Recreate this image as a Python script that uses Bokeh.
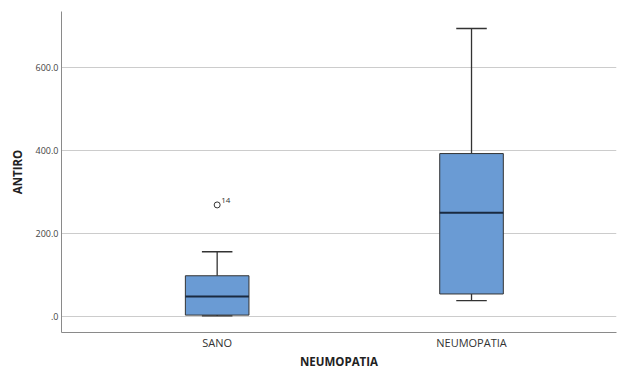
from bokeh.plotting import figure
from bokeh.models import FixedTicker, Range1d, ColumnDataSource
from bokeh.embed import file_html
from bokeh.resources import INLINE
from bokeh.core.properties import value

categories = ["SANO", "NEUMOPATIA"]
lower = [1, 38]
q1 = [3, 54]
median = [48, 250]
q3 = [98, 393]
upper = [156, 695]
outlier_cat = [1]
outlier_val = [269]
outlier_label = ["14"]
y_ticks = [0, 200, 400, 600]
y_tick_labels = [".0", "200.0", "400.0", "600.0"]

xs = [i + 1 for i in range(len(categories))]
bw = 0.25
cw = 0.12

p = figure(width=618, height=371, output_backend="svg", toolbar_location=None,
           x_range=Range1d(0.388, 2.57), y_range=Range1d(-39, 736),
           min_border_left=61, min_border_right=2, min_border_top=11, min_border_bottom=10)
p.outline_line_color = None
p.background_fill_color = "white"

p.xaxis.ticker = FixedTicker(ticks=xs)
p.xaxis.major_label_overrides = {x: c for x, c in zip(xs, categories)}
p.yaxis.ticker = FixedTicker(ticks=y_ticks)
p.yaxis.major_label_overrides = {t: l for t, l in zip(y_ticks, y_tick_labels)}

for ax in [p.xaxis[0], p.yaxis[0]]:
    ax.major_tick_line_color = None
    ax.minor_tick_line_color = None
    ax.major_tick_out = 0
    ax.major_tick_in = 0
    ax.minor_tick_out = 0
    ax.axis_line_color = "#8a8a8a"
    ax.axis_line_width = 1
    ax.axis_label_text_font = "Open Sans"
    ax.axis_label_text_font_style = "bold"
    ax.axis_label_text_font_size = "11.5px"
    ax.axis_label_text_color = "#222222"
    ax.major_label_text_font = "Open Sans"

p.xaxis.axis_label = "NEUMOPATIA"
p.yaxis.axis_label = "ANTIRO"
p.xaxis.major_label_text_font_size = "11px"
p.xaxis.major_label_text_color = "#333333"
p.xaxis.major_label_standoff = 2
p.xaxis.axis_label_standoff = 1
p.xaxis.axis_label_text_baseline = "middle"
p.yaxis.major_label_text_font_size = "9px"
p.yaxis.major_label_text_color = "#444444"
p.yaxis.major_label_standoff = 3
p.yaxis.axis_label_standoff = 8

p.xgrid.grid_line_color = None
p.ygrid.grid_line_color = "#cccccc"
p.ygrid.grid_line_width = 1

src = ColumnDataSource(dict(x=xs, lower=lower, q1=q1, median=median, q3=q3, upper=upper,
                            bl=[x - bw / 2 for x in xs], br=[x + bw / 2 for x in xs],
                            cl=[x - cw / 2 for x in xs], cr=[x + cw / 2 for x in xs]))

# whiskers
p.segment(x0="x", y0="q3", x1="x", y1="upper", source=src, line_color="#333333", line_width=1.3)
p.segment(x0="x", y0="lower", x1="x", y1="q1", source=src, line_color="#333333", line_width=1.3)
p.segment(x0="cl", y0="upper", x1="cr", y1="upper", source=src, line_color="#333333", line_width=1.3)
p.segment(x0="cl", y0="lower", x1="cr", y1="lower", source=src, line_color="#333333", line_width=1.3)

# boxes
p.vbar(x="x", width=bw, bottom="q1", top="q3", source=src,
       fill_color="#6a9bd4", line_color="#333333", line_width=1)
# median
p.segment(x0="bl", y0="median", x1="br", y1="median", source=src, line_color="#1a2a40", line_width=2)

# outliers
osrc = ColumnDataSource(dict(x=outlier_cat, y=outlier_val, t=outlier_label))
p.scatter(x="x", y="y", source=osrc, marker="circle", size=6, fill_color="white",
          line_color="#333333", line_width=1)
p.text(x="x", y="y", text="t", source=osrc, x_offset=4, y_offset=-2,
       text_font=value("Open Sans"), text_font_size="8px", text_color="#333333",
       text_baseline="bottom")

open("out.html", "w").write(file_html(p, INLINE))
